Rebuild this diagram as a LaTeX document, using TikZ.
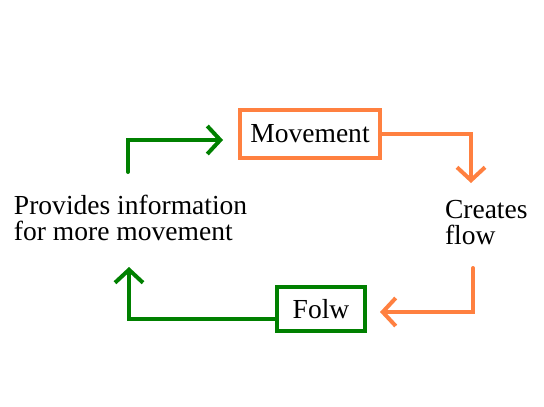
\documentclass[tikz,border=0pt]{standalone}
\usepackage{fontspec}
\setmainfont{Liberation Serif}
\usepackage{xcolor}
\usetikzlibrary{arrows.meta}
\definecolor{kreisorange}{RGB}{255,128,64}
\definecolor{kreisgruen}{RGB}{0,128,0}

\begin{document}
\begin{tikzpicture}[x=0.03cm, y=-0.03cm, line width=3.4pt, line cap=round,
    >={Straight Barb[length=0.39cm, width=0.84cm]},
    kasten/.style={draw, line width=3.4pt, inner sep=0pt,
        font=\fontsize{23.5}{22.2}\selectfont},
    schrift/.style={inner sep=0pt, align=left,
        font=\fontsize{23.5}{22.2}\selectfont}]
\useasboundingbox (0,0) rectangle (544,406);

% Kaesten
\node[kasten, kreisorange, text=black, minimum width=4.2cm, minimum height=1.44cm]
    (mov) at (310,134) {Movement};
\node[kasten, kreisgruen, text=black, minimum width=2.64cm, minimum height=1.32cm]
    (folw) at (321,309) {Folw};

% Beschriftungen
\node[schrift, anchor=base west] (prov) at (12,240)
    {Provides information\\for more movement};
\node[schrift, anchor=base west] (cre) at (443,244) {Creates\\flow};

% Enden der Pfeile
\coordinate (oben) at (471,183);
\coordinate (rechts) at (473,268);
\coordinate (links) at (129,267);
\coordinate (start) at (128,172);

% Orange Pfeile
\draw[->, kreisorange] (mov.east) -| (oben);
\draw[->, kreisorange] (rechts) |- ([xshift=0.39cm, yshift=-0.09cm]folw.east);

% Gruene Pfeile
\draw[->, kreisgruen] ([yshift=-0.3cm]folw.west) -| (links);
\draw[->, kreisgruen] (start) |- ([xshift=-0.45cm, yshift=-0.18cm]mov.west);

\end{tikzpicture}
\end{document}
